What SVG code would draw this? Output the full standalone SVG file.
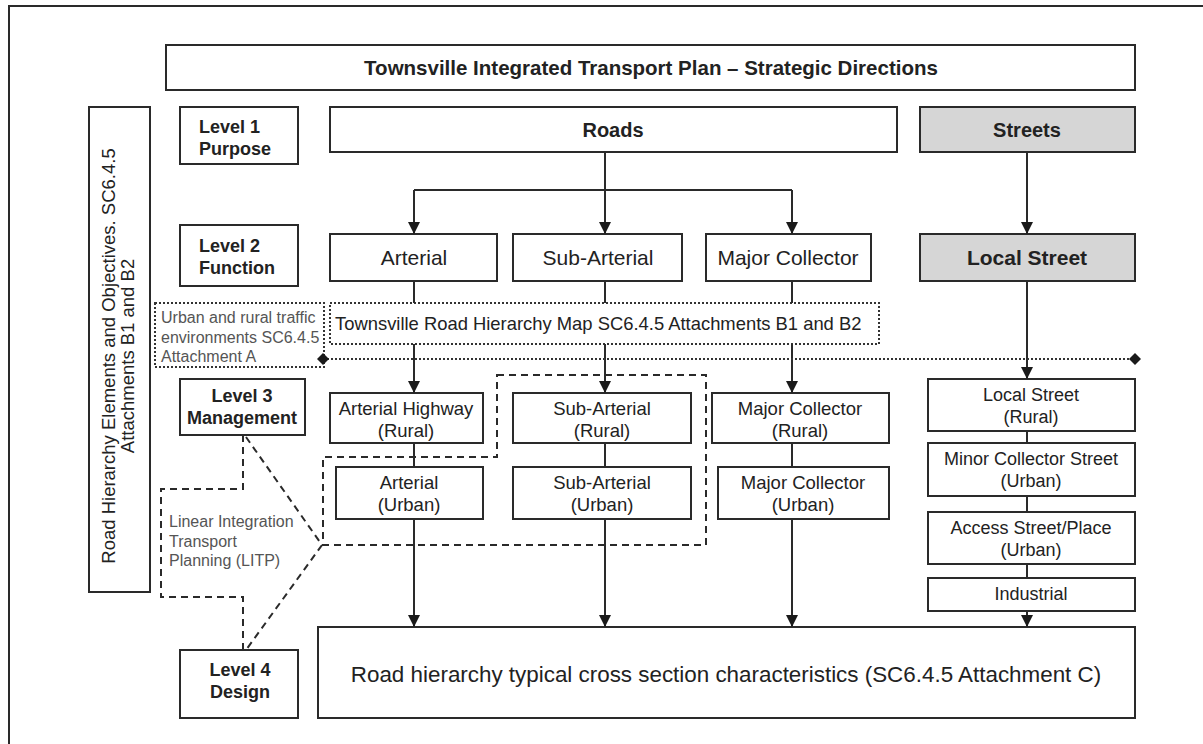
<svg xmlns="http://www.w3.org/2000/svg" width="1203" height="744" viewBox="0 0 1203 744">
<style>
.box{fill:#fff;stroke:#2a2a2a;stroke-width:2}
.grey{fill:#d6d6d6;stroke:#2a2a2a;stroke-width:2}
.dotbox{fill:#fff;stroke:#333;stroke-width:2;stroke-dasharray:2 2}
.dash{fill:none;stroke:#2a2a2a;stroke-width:2;stroke-dasharray:7 5}
.line{fill:none;stroke:#2a2a2a;stroke-width:2}
.arr{fill:none;stroke:#2a2a2a;stroke-width:2;marker-end:url(#ah)}
.dotline{fill:none;stroke:#333;stroke-width:2;stroke-dasharray:2 2}
text{font-family:"Liberation Sans",Arial,sans-serif;fill:#222}
.b{font-weight:bold}
.c{text-anchor:middle}
.lt{fill:#555}
</style>
<defs>
<marker id="ah" viewBox="0 0 12 12" refX="12" refY="6" markerWidth="12" markerHeight="12" markerUnits="userSpaceOnUse" orient="auto">
<path d="M0,0 L12,6 L0,12 z" fill="#1a1a1a"/>
</marker>
</defs>
<rect width="1203" height="744" fill="#fff"/>
<path d="M9,744 V6 H1203" class="line"/>

<g id="title"><rect x="166" y="45" width="969" height="45" class="box"/><text x="651" y="75" class="b c" font-size="20.5">Townsville Integrated Transport Plan – Strategic Directions</text></g>

<g id="side"><rect x="89" y="107" width="61" height="485" class="box"/>
<text transform="translate(115,356) rotate(-90)" class="c" font-size="18.5">Road Hierarchy Elements and Objectives. SC6.4.5</text>
<text transform="translate(134,356) rotate(-90)" class="c" font-size="18.5">Attachments B1 and B2</text></g>

<g id="level1"><rect x="180" y="107" width="118" height="57" class="box"/><text x="199" y="133" class="b" font-size="18">Level 1</text><text x="199" y="155" class="b" font-size="18">Purpose</text></g>
<g id="level2"><rect x="180" y="225" width="118" height="61" class="box"/><text x="199" y="252" class="b" font-size="18">Level 2</text><text x="199" y="274" class="b" font-size="18">Function</text></g>
<g id="level3"><rect x="180" y="379" width="125" height="56" class="box"/><text x="242" y="402" class="b c" font-size="18">Level 3</text><text x="242" y="424" class="b c" font-size="18">Management</text></g>
<g id="level4"><rect x="180" y="650" width="118" height="68" class="box"/><text x="240" y="676" class="b c" font-size="18">Level 4</text><text x="240" y="698" class="b c" font-size="18">Design</text></g>

<g id="roads"><rect x="330" y="107" width="567" height="45" class="box"/><text x="613" y="137" class="b c" font-size="20">Roads</text></g>
<g id="streets"><rect x="920" y="107" width="215" height="45" class="grey"/><text x="1027" y="137" class="b c" font-size="20">Streets</text></g>

<g id="arterial"><rect x="330" y="234" width="167" height="47" class="box"/><text x="414" y="265" class="c" font-size="21">Arterial</text></g>
<g id="subarterial"><rect x="513" y="234" width="169" height="47" class="box"/><text x="598" y="265" class="c" font-size="21">Sub-Arterial</text></g>
<g id="majorcollector"><rect x="706" y="234" width="165" height="47" class="box"/><text x="788" y="265" class="c" font-size="21">Major Collector</text></g>
<g id="localstreet"><rect x="920" y="234" width="215" height="47" class="grey"/><text x="1027" y="265" class="b c" font-size="21">Local Street</text></g>

<g id="urbanrural"><rect x="155" y="303" width="169" height="64" class="dotbox"/><text x="161" y="323" class="lt" font-size="16">Urban and rural traffic</text><text x="161" y="343" class="lt" font-size="16">environments SC6.4.5</text><text x="161" y="362" class="lt" font-size="16">Attachment A</text></g>
<g id="hierarchymap"><rect x="330" y="303" width="549" height="41" class="dotbox"/><text x="335" y="330" font-size="18.4">Townsville Road Hierarchy Map SC6.4.5 Attachments B1 and B2</text></g>

<g id="litp"><text x="169" y="527" class="lt" font-size="16">Linear Integration</text><text x="169" y="547" class="lt" font-size="16">Transport</text><text x="169" y="566" class="lt" font-size="16">Planning (LITP)</text></g>

<g id="arterialrural"><rect x="330" y="393" width="153" height="50" class="box"/><text x="406" y="415" class="c" font-size="18.5">Arterial Highway</text><text x="406" y="437" class="c" font-size="18.5">(Rural)</text></g>
<g id="arterialurban"><rect x="336" y="467" width="147" height="52" class="box"/><text x="409" y="489" class="c" font-size="18.5">Arterial</text><text x="409" y="511" class="c" font-size="18.5">(Urban)</text></g>
<g id="subrural"><rect x="513" y="393" width="178" height="50" class="box"/><text x="602" y="415" class="c" font-size="18.5">Sub-Arterial</text><text x="602" y="437" class="c" font-size="18.5">(Rural)</text></g>
<g id="suburban"><rect x="513" y="467" width="178" height="52" class="box"/><text x="602" y="489" class="c" font-size="18.5">Sub-Arterial</text><text x="602" y="511" class="c" font-size="18.5">(Urban)</text></g>
<g id="majrural"><rect x="712" y="393" width="177" height="50" class="box"/><text x="800" y="415" class="c" font-size="18.5">Major Collector</text><text x="800" y="437" class="c" font-size="18.5">(Rural)</text></g>
<g id="majurban"><rect x="718" y="467" width="171" height="52" class="box"/><text x="803" y="489" class="c" font-size="18.5">Major Collector</text><text x="803" y="511" class="c" font-size="18.5">(Urban)</text></g>

<g id="localrural"><rect x="928" y="379" width="207" height="52" class="box"/><text x="1031" y="401" class="c" font-size="18">Local Street</text><text x="1031" y="423" class="c" font-size="18">(Rural)</text></g>
<g id="minorcollector"><rect x="928" y="443" width="207" height="53" class="box"/><text x="1031" y="465" class="c" font-size="18">Minor Collector Street</text><text x="1031" y="487" class="c" font-size="18">(Urban)</text></g>
<g id="access"><rect x="928" y="512" width="207" height="52" class="box"/><text x="1031" y="534" class="c" font-size="18">Access Street/Place</text><text x="1031" y="556" class="c" font-size="18">(Urban)</text></g>
<g id="industrial"><rect x="928" y="578" width="207" height="33" class="box"/><text x="1031" y="600" class="c" font-size="18">Industrial</text></g>

<g id="design"><rect x="318" y="627" width="817" height="91" class="box"/><text x="726" y="682" class="c" font-size="22.4">Road hierarchy typical cross section characteristics (SC6.4.5 Attachment C)</text></g>

<g id="connectors">
<path d="M605,152 V190" class="line"/>
<path d="M414,190 H792" class="line"/>
<path d="M414,190 V234" class="arr"/>
<path d="M605,190 V234" class="arr"/>
<path d="M792,190 V234" class="arr"/>
<path d="M1027,152 V234" class="arr"/>
<path d="M414,281 V303 M605,281 V303 M792,281 V303" class="line"/>
<path d="M414,344 V393" class="arr"/>
<path d="M605,344 V393" class="arr"/>
<path d="M792,344 V393" class="arr"/>
<path d="M1027,281 V379" class="arr"/>
<path d="M414,443 V467 M605,443 V467 M792,443 V467" class="line"/>
<path d="M1027,431 V443 M1027,496 V512 M1027,564 V578" class="line"/>
<path d="M414,519 V627" class="arr"/>
<path d="M605,519 V627" class="arr"/>
<path d="M792,519 V627" class="arr"/>
<path d="M1027,611 V627" class="arr"/>
<path d="M323,359 H1135" class="dotline"/>
<path d="M323,353 L329,359 L323,365 L317,359 z" fill="#1a1a1a"/>
<path d="M1135,353 L1141,359 L1135,365 L1129,359 z" fill="#1a1a1a"/>
<path d="M497,375 H706 V545 H323 V457 H497 z" class="dash"/>
<path d="M243,435 V489 H161 V597 H243 V650" class="dash"/>
<path d="M246,437 L322,545 L246,650" class="dash"/>
</g>
</svg>
